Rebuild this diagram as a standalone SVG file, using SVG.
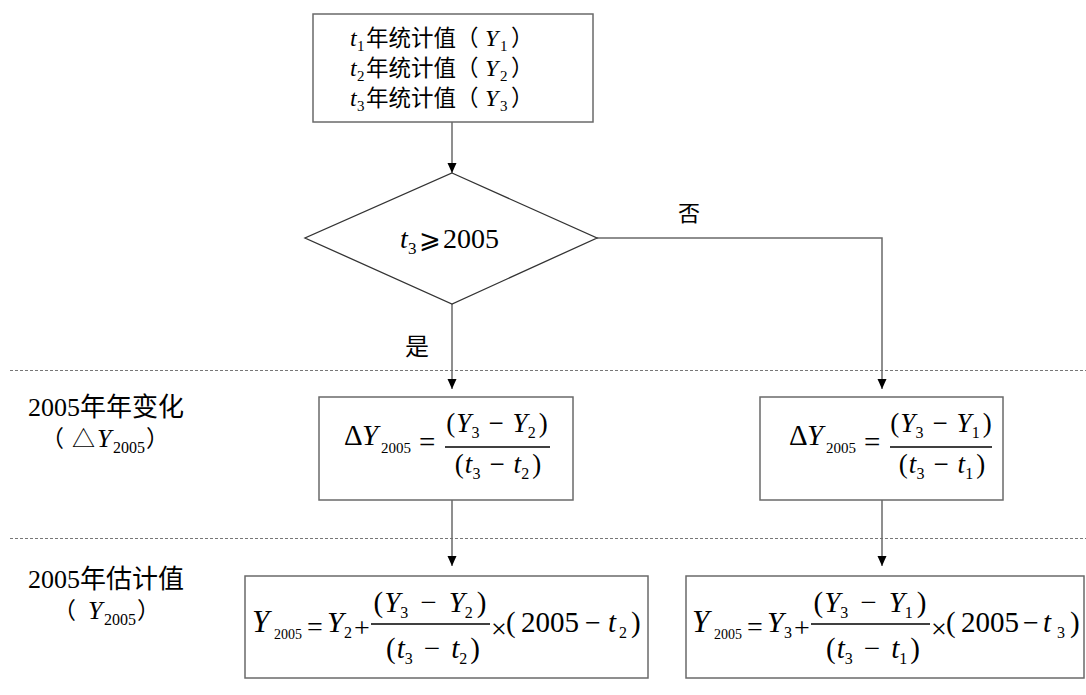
<svg xmlns="http://www.w3.org/2000/svg" width="1086" height="695" viewBox="0 0 1086 695">
<defs>
<style>
.cj{font-family:"Noto Sans CJK SC","Noto Sans CJK JP",sans-serif;fill:#000}
.m{font-family:"Liberation Serif","Noto Sans CJK SC",serif;fill:#000}
.i{font-style:italic}
.box{fill:#fff;stroke:#6a6a6a;stroke-width:1.5}
.dia{fill:#fff;stroke:#333;stroke-width:1.3}
.con{fill:none;stroke:#6a6a6a;stroke-width:1.5}
.bar{stroke:#000;stroke-width:1.3}
.dash{stroke:#777;stroke-width:1;stroke-dasharray:3 2}
</style>
<marker id="arr" markerUnits="userSpaceOnUse" markerWidth="10" markerHeight="10" refX="10" refY="4.5" orient="auto">
<path d="M0,0 L10,4.5 L0,9 Z" fill="#000"/>
</marker>
</defs>
<rect width="1086" height="695" fill="#fff"/>

<g id="dividers">
<line class="dash" x1="10" y1="370.5" x2="1086" y2="370.5"/>
<line class="dash" x1="10" y1="538.5" x2="1086" y2="538.5"/>
</g>

<g id="connectors">
<line class="con" x1="452" y1="122" x2="452" y2="173" marker-end="url(#arr)"/>
<line class="con" x1="452" y1="304" x2="452" y2="389" marker-end="url(#arr)"/>
<polyline class="con" points="597,238 882,238 882,389" marker-end="url(#arr)"/>
<line class="con" x1="452" y1="500" x2="452" y2="566" marker-end="url(#arr)"/>
<line class="con" x1="882" y1="500" x2="882" y2="566" marker-end="url(#arr)"/>
<text class="cj" x="405" y="355" font-size="24">是</text>
<text class="cj" x="678" y="221" font-size="22">否</text>
</g>

<g id="input">
<rect class="box" x="313" y="14" width="280" height="108"/>
<text class="m i" x="350" y="46" font-size="24">t</text>
<text class="m" x="357" y="51" font-size="15">1</text>
<text class="cj" x="366" y="46" font-size="22.5">年统计值（</text>
<text class="m i" x="485" y="46" font-size="24">Y</text>
<text class="m" x="500" y="51" font-size="15">1</text>
<text class="cj" x="511" y="46" font-size="22.5">）</text>
<text class="m i" x="350" y="76" font-size="24">t</text>
<text class="m" x="357" y="81" font-size="15">2</text>
<text class="cj" x="366" y="76" font-size="22.5">年统计值（</text>
<text class="m i" x="485" y="76" font-size="24">Y</text>
<text class="m" x="500" y="81" font-size="15">2</text>
<text class="cj" x="511" y="76" font-size="22.5">）</text>
<text class="m i" x="350" y="106" font-size="24">t</text>
<text class="m" x="357" y="111" font-size="15">3</text>
<text class="cj" x="366" y="106" font-size="22.5">年统计值（</text>
<text class="m i" x="485" y="106" font-size="24">Y</text>
<text class="m" x="500" y="111" font-size="15">3</text>
<text class="cj" x="511" y="106" font-size="22.5">）</text>
</g>

<g id="decision">
<polygon class="dia" points="452,173 597,238 452,304 305,238"/>
<text class="m i" x="400" y="248" font-size="28">t</text>
<text class="m" x="408" y="254" font-size="17">3</text>
<text x="419" y="248" font-size="26" font-family="DejaVu Serif,DejaVu Sans,serif">⩾</text>
<text class="m" x="443" y="248" font-size="28">2005</text>
</g>

<g id="label-change">
<text x="28" y="416" font-size="26"><tspan class="m">2005</tspan><tspan class="cj">年年变化</tspan></text>
<text class="cj" x="41" y="447" font-size="23">（</text>
<text class="cj" x="72" y="447" font-size="23">△</text>
<text class="m i" x="97" y="447" font-size="26">Y</text>
<text class="m" x="113" y="453" font-size="16">2005</text>
<text class="cj" x="146" y="447" font-size="23">）</text>
</g>

<g id="label-estimate">
<text x="28" y="588" font-size="26"><tspan class="m">2005</tspan><tspan class="cj">年估计值</tspan></text>
<text class="cj" x="53" y="619" font-size="23">（</text>
<text class="m i" x="88" y="619" font-size="26">Y</text>
<text class="m" x="104" y="625" font-size="16">2005</text>
<text class="cj" x="137" y="619" font-size="23">）</text>
</g>

<g id="change-yes">
<rect class="box" x="319" y="397" width="254" height="103"/>
<text class="m" x="344" y="445" font-size="29">Δ</text>
<text class="m i" x="362" y="445" font-size="29">Y</text>
<text class="m" x="381" y="453" font-size="15">2005</text>
<text class="m" x="419" y="452" font-size="29">=</text>
<line class="bar" x1="445" y1="447" x2="550" y2="447"/>
<text class="m" x="497" y="432" font-size="27" text-anchor="middle">(<tspan class="i" dx="1">Y</tspan><tspan font-size="16" dy="6">3</tspan><tspan dy="-6" dx="9">−</tspan><tspan class="i" dx="9">Y</tspan><tspan font-size="16" dy="6">2</tspan><tspan dy="-6" dx="3">)</tspan></text>
<text class="m" x="498" y="473" font-size="27" text-anchor="middle">(<tspan class="i" dx="1">t</tspan><tspan font-size="16" dy="6">3</tspan><tspan dy="-6" dx="9">−</tspan><tspan class="i" dx="9">t</tspan><tspan font-size="16" dy="6">2</tspan><tspan dy="-6" dx="3">)</tspan></text>
</g>

<g id="change-no">
<rect class="box" x="760" y="397" width="243" height="103"/>
<text class="m" x="789" y="445" font-size="29">Δ</text>
<text class="m i" x="807" y="445" font-size="29">Y</text>
<text class="m" x="826" y="453" font-size="15">2005</text>
<text class="m" x="864" y="452" font-size="29">=</text>
<line class="bar" x1="890" y1="447" x2="992" y2="447"/>
<text class="m" x="941" y="432" font-size="27" text-anchor="middle">(<tspan class="i" dx="1">Y</tspan><tspan font-size="16" dy="6">3</tspan><tspan dy="-6" dx="9">−</tspan><tspan class="i" dx="9">Y</tspan><tspan font-size="16" dy="6">1</tspan><tspan dy="-6" dx="3">)</tspan></text>
<text class="m" x="942" y="473" font-size="27" text-anchor="middle">(<tspan class="i" dx="1">t</tspan><tspan font-size="16" dy="6">3</tspan><tspan dy="-6" dx="9">−</tspan><tspan class="i" dx="9">t</tspan><tspan font-size="16" dy="6">1</tspan><tspan dy="-6" dx="3">)</tspan></text>
</g>

<g id="estimate-yes">
<rect class="box" x="245" y="576" width="403" height="102"/>
<text class="m i" x="252" y="632" font-size="31">Y</text>
<text class="m" x="274" y="639" font-size="14">2005</text>
<text class="m" x="307" y="636" font-size="28">=</text>
<text class="m i" x="327" y="632" font-size="30">Y</text>
<text class="m" x="344" y="638" font-size="16">2</text>
<text class="m" x="354" y="637" font-size="28">+</text>
<line class="bar" x1="371" y1="624" x2="490" y2="624"/>
<text class="m" x="430" y="612" font-size="29" text-anchor="middle">(<tspan class="i" dx="1">Y</tspan><tspan font-size="16" dy="6">3</tspan><tspan dy="-6" dx="12">−</tspan><tspan class="i" dx="12">Y</tspan><tspan font-size="16" dy="6">2</tspan><tspan dy="-6" dx="4">)</tspan></text>
<text class="m" x="433" y="658" font-size="29" text-anchor="middle">(<tspan class="i" dx="1">t</tspan><tspan font-size="16" dy="6">3</tspan><tspan dy="-6" dx="11">−</tspan><tspan class="i" dx="11">t</tspan><tspan font-size="16" dy="6">2</tspan><tspan dy="-6" dx="3">)</tspan></text>
<text class="m" x="491" y="638" font-size="28">×</text>
<text class="m" x="506" y="632" font-size="29">(</text>
<text class="m" x="521" y="632" font-size="29">2005</text>
<text class="m" x="585" y="632" font-size="28">−</text>
<text class="m i" x="608" y="632" font-size="29">t</text>
<text class="m" x="619" y="638" font-size="16">2</text>
<text class="m" x="631" y="632" font-size="29">)</text>
</g>

<g id="estimate-no">
<rect class="box" x="686" y="576" width="398" height="102"/>
<text class="m i" x="692" y="632" font-size="31">Y</text>
<text class="m" x="714" y="639" font-size="14">2005</text>
<text class="m" x="747" y="636" font-size="28">=</text>
<text class="m i" x="767" y="632" font-size="30">Y</text>
<text class="m" x="784" y="638" font-size="16">3</text>
<text class="m" x="794" y="637" font-size="28">+</text>
<line class="bar" x1="811" y1="624" x2="930" y2="624"/>
<text class="m" x="870" y="612" font-size="29" text-anchor="middle">(<tspan class="i" dx="1">Y</tspan><tspan font-size="16" dy="6">3</tspan><tspan dy="-6" dx="12">−</tspan><tspan class="i" dx="12">Y</tspan><tspan font-size="16" dy="6">1</tspan><tspan dy="-6" dx="4">)</tspan></text>
<text class="m" x="873" y="658" font-size="29" text-anchor="middle">(<tspan class="i" dx="1">t</tspan><tspan font-size="16" dy="6">3</tspan><tspan dy="-6" dx="11">−</tspan><tspan class="i" dx="11">t</tspan><tspan font-size="16" dy="6">1</tspan><tspan dy="-6" dx="3">)</tspan></text>
<text class="m" x="931" y="638" font-size="28">×</text>
<text class="m" x="946" y="632" font-size="29">(</text>
<text class="m" x="961" y="632" font-size="29">2005</text>
<text class="m" x="1023" y="632" font-size="28">−</text>
<text class="m i" x="1043" y="632" font-size="29">t</text>
<text class="m" x="1057" y="638" font-size="16">3</text>
<text class="m" x="1070" y="632" font-size="29">)</text>
</g>
</svg>
